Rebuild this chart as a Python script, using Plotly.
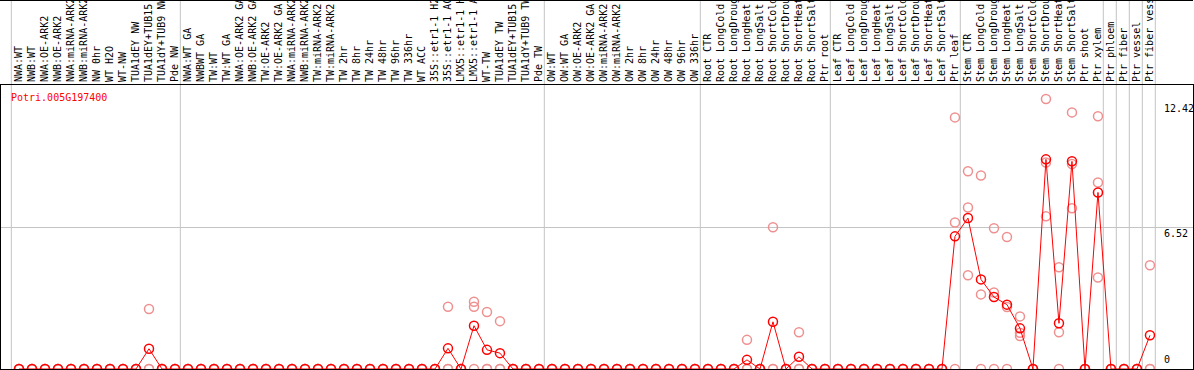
import plotly.graph_objects as go

categories = [
    "NWA:WT", "NWB:WT", "NWA:OE-ARK2", "NWB:OE-ARK2", "NWA:miRNA-ARK2", "NWB:miRNA-ARK2",
    "NW 0hr", "WT H2O", "WT-NW", "TUA1dEY NW", "TUA1dEY+TUB15", "TUA1dY+TUB9 NW", "Pde NW",
    "NWA:WT GA", "NWBWT GA", "TW:WT", "TW:WT GA", "NWA:OE-ARK2 GA", "NWB:OE-ARK2 GA",
    "TW:OE-ARK2", "TW:OE-ARK2 GA", "NWA:miRNA-ARK2", "NWB:miRNA-ARK2", "TW:miRNA-ARK2",
    "TW:miRNA-ARK2", "TW 2hr", "TW 8hr", "TW 24hr", "TW 48hr", "TW 96hr", "TW 336hr",
    "WT ACC", "35S::etr1-1 H2O", "35S::etr1-1 ACC", "LMX5::etr1-1 H2O", "LMX5::etr1-1 ACC",
    "WT-TW", "TUA1dEY TW", "TUA1dEY+TUB15 TW", "TUA1dY+TUB9 TW", "Pde TW",
    "OW:WT", "OW:WT GA", "OW:OE-ARK2", "OW:OE-ARK2 GA", "OW:miRNA-ARK2", "OW:miRNA-ARK2",
    "OW 2hr", "OW 8hr", "OW 24hr", "OW 48hr", "OW 96hr", "OW 336hr",
    "Root CTR", "Root LongCold", "Root LongDrought", "Root LongHeat", "Root LongSalt",
    "Root ShortCold", "Root ShortDrought", "Root ShortHeat", "Root ShortSalt", "Ptr root",
    "Leaf CTR", "Leaf LongCold", "Leaf LongDrought", "Leaf LongHeat", "Leaf LongSalt",
    "Leaf ShortCold", "Leaf ShortDrought", "Leaf ShortHeat", "Leaf ShortSalt", "Ptr leaf",
    "Stem CTR", "Stem LongCold", "Stem LongDrought", "Stem LongHeat", "Stem LongSalt",
    "Stem ShortCold", "Stem ShortDrought", "Stem ShortHeat", "Stem ShortSalt", "Ptr shoot",
    "Ptr xylem", "Ptr phloem", "Ptr fiber", "Ptr vessel", "Ptr fiber vessel",
]

mean_values = [
    0, 0, 0, 0, 0, 0, 0, 0, 0, 0, 0.93, 0, 0,
    0, 0, 0, 0, 0, 0, 0, 0, 0, 0, 0, 0, 0, 0, 0, 0, 0, 0, 0, 0, 0.95, 0, 1.99, 0.88, 0.73, 0, 0, 0,
    0, 0, 0, 0, 0, 0, 0, 0, 0, 0, 0, 0,
    0, 0, 0, 0.42, 0, 2.17, 0, 0.56, 0, 0,
    0, 0, 0, 0, 0, 0, 0, 0, 0, 6.10,
    6.94, 4.12, 3.31, 2.96, 1.87, 0, 9.64, 2.10, 9.55, 0, 8.12,
    0, 0, 0, 1.55,
]

rep1 = [
    0, 0, 0, 0, 0, 0, 0, 0, 0, 0, 2.76, 0, 0,
    0, 0, 0, 0, 0, 0, 0, 0, 0, 0, 0, 0, 0, 0, 0, 0, 0, 0, 0, 0, 2.86, 0, 3.09, 2.62, 2.20, 0, 0, 0,
    0, 0, 0, 0, 0, 0, 0, 0, 0, 0, 0, 0,
    0, 0, 0, 1.34, 0, 6.52, 0, 1.69, 0, 0,
    0, 0, 0, 0, 0, 0, 0, 0, 0, 11.57,
    9.09, 8.90, 6.47, 6.07, 2.42, 0, 12.42, 4.68, 11.80, 0, 11.62,
    0, 0, 0, 4.77,
]

rep2 = [
    0, 0, 0, 0, 0, 0, 0, 0, 0, 0, 0, 0, 0,
    0, 0, 0, 0, 0, 0, 0, 0, 0, 0, 0, 0, 0, 0, 0, 0, 0, 0, 0, 0, 0, 0, 2.86, 0, 0, 0, 0, 0,
    0, 0, 0, 0, 0, 0, 0, 0, 0, 0, 0, 0,
    0, 0, 0, 0, 0, 0, 0, 0, 0, 0,
    0, 0, 0, 0, 0, 0, 0, 0, 0, 6.74,
    7.43, 3.43, 3.52, 2.85, 1.67, 0, 9.50, 1.69, 9.43, 0, 8.58,
    0, 0, 0, 0,
]

rep3 = [
    0, 0, 0, 0, 0, 0, 0, 0, 0, 0, 0, 0, 0,
    0, 0, 0, 0, 0, 0, 0, 0, 0, 0, 0, 0, 0, 0, 0, 0, 0, 0, 0, 0, 0, 0, 0, 0, 0, 0, 0, 0,
    0, 0, 0, 0, 0, 0, 0, 0, 0, 0, 0, 0,
    0, 0, 0, 0, 0, 0, 0, 0, 0, 0,
    0, 0, 0, 0, 0, 0, 0, 0, 0, 0,
    4.31, 0, 0, 0, 1.52, 0, 7.02, 0, 7.39, 0, 4.21,
    0, 0, 0, 0,
]

# index of last category in each group (separators drawn after these)
group_ends = [-1, 12, 40, 52, 62, 72, 83, 84, 85, 86, 87]
ytick_labels = [12.42, 6.52, 0]
gene_id = "Potri.005G197400"

W, H = 1194, 370
ML, MR, MT, MB = 1, 1, 85, 1
X0, X1 = -1.385, 90.31
Y0, Y1 = 0, 13.06
plot_h = H - MT - MB
plot_w = W - ML - MR

xs = list(range(len(categories)))
mono = "DejaVu Sans Mono"

fig = go.Figure()
for rep in (rep1, rep2, rep3):
    fig.add_trace(go.Scatter(
        x=xs, y=rep, mode="markers", cliponaxis=False,
        marker=dict(symbol="circle-open", size=9, color="#ef9090", line=dict(width=1.5, color="#ef9090")),
        hoverinfo="skip", showlegend=False,
    ))
fig.add_trace(go.Scatter(
    x=xs, y=mean_values, mode="lines+markers", cliponaxis=False,
    line=dict(color="#ff0000", width=1),
    marker=dict(symbol="circle-open", size=9, color="#ff0000", line=dict(width=1.5, color="#ff0000")),
    showlegend=False,
))

shapes = []
for g in group_ends:
    xp = (g + 0.41 - X0) / (X1 - X0)
    shapes.append(dict(type="line", xref="paper", yref="paper", x0=xp, x1=xp,
                       y0=-MB / plot_h, y1=(plot_h + MT) / plot_h,
                       line=dict(color="#c4c4c4", width=1), layer="below"))
# top border of figure
shapes.append(dict(type="line", xref="paper", yref="paper", x0=-ML / plot_w, x1=1,
                   y0=(plot_h + MT - 0.5) / plot_h, y1=(plot_h + MT - 0.5) / plot_h,
                   line=dict(color="black", width=1)))

annotations = [
    dict(text=gene_id, xref="paper", yref="paper", x=8 / plot_w, y=(plot_h - 12) / plot_h,
         xanchor="left", yanchor="middle", showarrow=False,
         font=dict(family=mono, size=10, color="#ff0000")),
]
for v in ytick_labels:
    if v == 0:
        ya, ys = "bottom", 2
    elif v == max(ytick_labels):
        ya, ys = "top", -2
    else:
        ya, ys = "top", 1
    annotations.append(dict(text=f"{v:g}" if v == 0 else f"{v:.2f}", xref="x", yref="y",
                            x=87.95, y=v, xanchor="left", yanchor=ya, yshift=ys,
                            showarrow=False, font=dict(family=mono, size=10, color="black")))

fig.update_layout(
    width=W, height=H,
    margin=dict(l=ML, r=MR, t=MT, b=MB, pad=0),
    paper_bgcolor="white", plot_bgcolor="white",
    shapes=shapes, annotations=annotations,
    xaxis=dict(range=[X0, X1], side="top", tickmode="array", tickvals=xs, ticktext=categories,
               tickangle=-90, tickfont=dict(family=mono, size=10, color="black"),
               ticks="", showgrid=False, zeroline=False, showline=True, mirror=True,
               linecolor="black", linewidth=1, automargin=False, ticklabelstandoff=0),
    yaxis=dict(range=[Y0, Y1], tickmode="array", tickvals=[6.52], showticklabels=False,
               ticks="", showgrid=True, gridcolor="#c4c4c4", gridwidth=1, zeroline=False,
               showline=True, mirror=True, linecolor="black", linewidth=1, automargin=False),
)

fig.write_html("out.html", config={"displayModeBar": False},
               post_script="document.body.style.margin='0';document.body.style.overflow='hidden';")
